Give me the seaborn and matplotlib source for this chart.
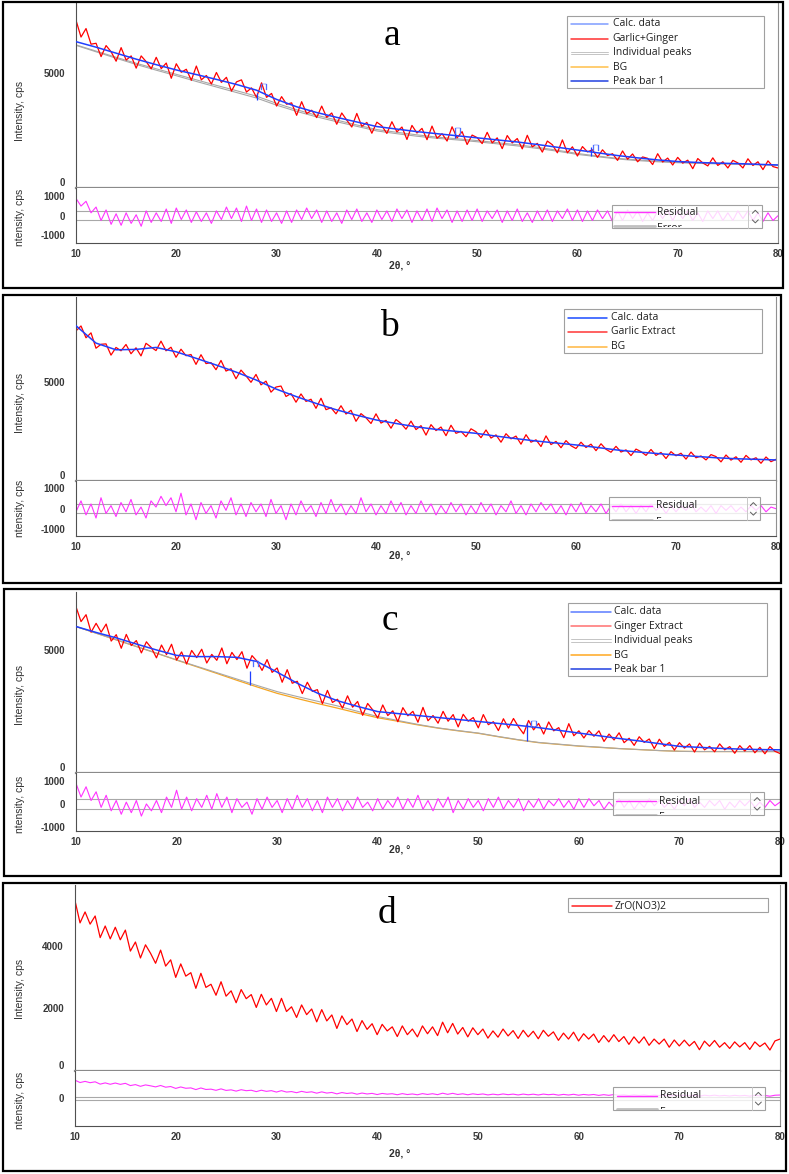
import numpy as np
import matplotlib
matplotlib.use("Agg")
import matplotlib.pyplot as plt
import seaborn as sns
from matplotlib.patches import Rectangle
from matplotlib.ticker import MultipleLocator
from matplotlib.transforms import Bbox

W, H = 789, 1174

# 2θ grids (measured points every 0.5°, fitted curves every 2°)
two_theta = np.arange(10, 80.001, 0.5)
two_theta_fit = np.arange(10, 80.001, 2.0)

# ---- a : Garlic+Ginger ----
obs_a = [7290, 6560, 6930, 6250, 6290, 5710, 6190, 5920, 5510, 6100,
         5560, 5740, 5210, 5740, 5490, 5180, 5680, 5190, 5430, 4770,
         5400, 5030, 5160, 4680, 5300, 4700, 4890, 4520, 5020, 4590,
         4810, 4210, 4610, 4700, 4170, 4350, 3940, 4570, 3940, 4110,
         3560, 3970, 3640, 3700, 3160, 3750, 3230, 3380, 3060, 3560,
         3070, 3260, 2770, 3260, 2950, 2650, 3240, 2680, 2850, 2380,
         2860, 2700, 2370, 2880, 2440, 2650, 2110, 2720, 2390, 2590,
         2100, 2690, 2160, 2360, 2040, 2660, 2180, 2450, 1890, 2300,
         2190, 1930, 2420, 1960, 2180, 1710, 2280, 1960, 2150, 1700,
         2290, 1790, 1940, 1560, 2040, 1880, 1530, 2090, 1530, 1790,
         1390, 1800, 1570, 1660, 1330, 1660, 1410, 1490, 1200, 1610,
         1250, 1480, 1140, 1350, 1290, 1020, 1490, 1130, 1300, 1000,
         1330, 1080, 1210, 840, 1280, 1090, 960, 1310, 980, 1140,
         870, 1200, 1090, 870, 1270, 980, 1140, 800, 1180, 930,
         870]
calc_a = [6360, 6120, 5860, 5600, 5360, 5130, 4930, 4720, 4500, 4250,
          3850, 3530, 3280, 3070, 2870, 2670, 2560, 2450, 2360, 2270,
          2180, 2090, 2000, 1890, 1770, 1650, 1530, 1410, 1310, 1220,
          1150, 1110, 1080, 1060, 1030, 1000]
peaks_a = [6220, 5950, 5680, 5420, 5180, 4940, 4700, 4460, 4230, 3990,
           3680, 3400, 3160, 2950, 2740, 2540, 2420, 2310, 2210, 2140,
           2060, 1970, 1880, 1770, 1640, 1500, 1390, 1290, 1220, 1160,
           1120, 1090, 1070, 1050, 1020, 1000]
bg_a = [6200, 5920, 5640, 5370, 5120, 4880, 4630, 4390, 4150, 3910,
        3600, 3330, 3090, 2880, 2680, 2480, 2360, 2250, 2160, 2090,
        2010, 1920, 1830, 1720, 1600, 1460, 1360, 1260, 1190, 1140,
        1100, 1070, 1050, 1030, 1010, 990]
resid_a = [900, 500, 750, 150, 450, -250, 300, -450, 100, -500,
           150, -400, 50, -550, 250, -350, 150, -300, 350, -400,
           400, -200, 300, -350, 200, -300, 150, -400, 250, -200,
           450, -150, 400, -300, 500, -250, 350, -350, 300, -300,
           150, -400, 250, -350, 300, -200, 400, -150, 300, -350,
           250, -300, 150, -400, 300, -200, 350, -300, 150, -350,
           300, -200, 250, -300, 350, -150, 300, -350, 250, -250,
           350, -300, 400, -150, 300, -350, 250, -300, 300, -250,
           350, -300, 250, -150, 300, -350, 250, -250, 350, -300,
           150, -350, 250, -250, 300, -300, 250, -150, 350, -250,
           300, -300, 250, -250, 300, -150, 250, -300, 250, -250,
           300, -150, 250, -300, 150, -250, 250, -150, 300, -250,
           250, -150, 250, -250, 150, -300, 250, -150, 250, -250,
           150, -250, 250, -150, 250, -250, 150, -300, 150, -250,
           0]
bar_x_a = [28.0, 47.8, 61.4]
bar_lo_a = [3830, 2180, 1400]
bar_hi_a = [4130, 2430, 1780]
mark_x_a = [28.7, 48.1, 61.9]
mark_y_a = [4380, 2480, 1750]

# ---- b : Garlic Extract ----
obs_b = [7620, 7870, 7270, 7520, 6740, 6940, 6960, 6390, 6780, 6610,
         6930, 6460, 6760, 6350, 6990, 6800, 6620, 7100, 6610, 6790,
         6280, 6690, 6360, 6420, 5920, 6410, 5960, 6010, 5650, 6120,
         5580, 5700, 5190, 5630, 5340, 5010, 5410, 4880, 5070, 4510,
         4770, 4820, 4290, 4440, 4000, 4420, 4040, 4150, 3690, 4200,
         3620, 3720, 3410, 3820, 3400, 3590, 3030, 3420, 3210, 2920,
         3410, 2940, 3080, 2680, 3120, 2920, 2630, 3040, 2610, 2810,
         2330, 2860, 2560, 2740, 2300, 2830, 2420, 2520, 2250, 2650,
         2500, 2200, 2590, 2180, 2340, 1970, 2400, 2140, 2280, 1870,
         2350, 1970, 2090, 1750, 2290, 1850, 2010, 1690, 2050, 1790,
         1650, 1970, 1700, 1870, 1540, 1890, 1610, 1460, 1760, 1470,
         1580, 1290, 1620, 1490, 1300, 1600, 1300, 1450, 1140, 1490,
         1280, 1410, 1110, 1470, 1180, 1270, 1070, 1340, 1240, 970,
         1320, 1060, 1230, 950, 1300, 1070, 1180, 900, 1220, 980,
         1100]
calc_b = [7880, 7000, 6660, 6680, 6780, 6560, 6230, 5890, 5530, 5130,
          4670, 4290, 3940, 3620, 3350, 3100, 2920, 2750, 2620, 2520,
          2420, 2280, 2150, 2030, 1930, 1830, 1710, 1580, 1480, 1400,
          1320, 1250, 1180, 1130, 1100, 1070]
resid_b = [-150, 380, -300, 230, -450, 530, -230, 150, -380, 300,
           -150, 450, -300, 80, -450, 380, 80, 600, 150, 530,
           -150, 750, -300, 230, -530, 300, -230, 150, -450, 380,
           -80, 530, -300, 230, -380, 300, -150, 230, -380, 450,
           -230, 150, -530, 230, -300, 380, -150, 150, -380, 300,
           -230, 450, -150, 230, -300, 150, -230, 530, -150, 230,
           -300, 150, -230, 380, -150, 300, -300, 150, -230, 380,
           -150, 230, -300, 150, -230, 300, -150, 230, -300, 150,
           -230, 300, -150, 230, -300, 150, -150, 380, -230, 150,
           -300, 230, -150, 300, -80, 230, -230, 150, -300, 230,
           -150, 300, -230, 150, -150, 230, -230, 150, -150, 230,
           -150, 150, -230, 150, -150, 230, -80, 150, -230, 150,
           -150, 150, -80, 230, -150, 80, -150, 150, -230, 150,
           -80, 150, -150, 80, -150, 150, -80, 150, -150, 80,
           0]

# ---- c : Ginger Extract ----
obs_c = [6740, 6140, 6420, 5710, 6070, 5710, 6040, 5350, 5610, 5060,
         5620, 5170, 5370, 4870, 5320, 5070, 4670, 5190, 4800, 5220,
         4580, 4910, 4420, 4970, 4680, 5020, 4460, 4810, 4570, 5070,
         4430, 4890, 4600, 4920, 4250, 4760, 4530, 4160, 4600, 4080,
         4260, 3680, 4190, 3640, 3720, 3220, 3680, 3310, 3380, 2810,
         3350, 2860, 2990, 2630, 3130, 2670, 2900, 2340, 2820, 2560,
         2230, 2760, 2330, 2520, 2080, 2650, 2320, 2500, 2060, 2660,
         2120, 2330, 2020, 2500, 2100, 2370, 1870, 2380, 2100, 2250,
         1830, 2370, 1960, 2080, 1720, 2200, 1820, 2210, 1870, 1590,
         2130, 1750, 2010, 1580, 2070, 1710, 1840, 1430, 2000, 1510,
         1710, 1420, 1720, 1490, 1710, 1280, 1580, 1340, 1630, 1230,
         1410, 1120, 1470, 1240, 1380, 990, 1370, 1080, 1240, 930,
         1230, 1010, 1180, 850, 1210, 940, 1080, 860, 1180, 940,
         1070, 800, 1110, 890, 1110, 820, 1040, 780, 1070, 880,
         790]
calc_c = [5940, 5700, 5480, 5230, 4990, 4770, 4720, 4720, 4690, 4520,
          4090, 3640, 3240, 2930, 2700, 2490, 2410, 2330, 2250, 2170,
          2090, 2010, 1930, 1840, 1730, 1620, 1510, 1400, 1300, 1190,
          1080, 1040, 1000, 970, 950, 940]
peaks_c = [5940, 5670, 5400, 5130, 4860, 4590, 4330, 4070, 3810, 3550,
           3300, 3100, 2910, 2720, 2500, 2290, 2130, 1970, 1830, 1720,
           1620, 1480, 1350, 1240, 1170, 1100, 1050, 990, 950, 910,
           880, 870, 870, 870, 870, 870]
bg_c = [5940, 5670, 5400, 5130, 4860, 4580, 4310, 4040, 3760, 3490,
        3230, 3020, 2820, 2630, 2430, 2240, 2100, 1950, 1820, 1710,
        1610, 1470, 1340, 1230, 1160, 1090, 1040, 990, 950, 910,
        880, 870, 870, 870, 870, 870]
resid_c = [900, 300, 750, 150, 530, -150, 380, -300, 150, -450,
           80, -380, 150, -530, 0, -300, 150, -380, 300, -150,
           600, -230, 300, -300, 230, -150, 380, -230, 450, -150,
           300, -380, 230, -150, 80, -450, 230, -230, 300, -150,
           150, -380, 230, -230, 380, -150, 230, -300, 150, -380,
           300, -150, 230, -300, 150, -230, 300, -150, 80, -300,
           230, -230, 150, -150, 300, -230, 230, -150, 380, -230,
           150, -300, 230, -150, 300, -380, 150, -230, 230, -150,
           150, -300, 230, -150, 300, -230, 150, -150, 230, -300,
           150, -150, 230, -230, 150, -80, 230, -150, 150, -230,
           230, -150, 230, -80, 150, -230, 80, -150, 230, -150,
           150, -230, 80, -150, 230, -80, 150, -150, 80, -230,
           150, -80, 230, -150, 80, -150, 150, -80, 150, -230,
           80, -150, 150, -80, 150, -150, 80, -150, 150, -80,
           80]
bar_x_c = [27.3, 54.8]
bar_lo_c = [3570, 1280]
bar_hi_c = [4140, 2020]
mark_x_c = [27.9, 55.5]
mark_y_c = [4430, 1980]

# ---- d : ZrO(NO3)2 (no fit, residual = data) ----
obs_d = [5440, 4730, 5080, 4690, 4950, 4260, 4630, 4220, 4590, 4190,
         4500, 3830, 4120, 3610, 4030, 3760, 3440, 3860, 3350, 3550,
         2990, 3420, 3030, 3140, 2640, 3120, 2670, 2770, 2420, 2850,
         2390, 2560, 2180, 2600, 2310, 2440, 2030, 2450, 2110, 2320,
         1900, 2320, 1900, 2050, 1710, 2110, 1800, 1980, 1570, 1960,
         1600, 1790, 1360, 1760, 1480, 1660, 1260, 1610, 1330, 1510,
         1160, 1490, 1280, 1410, 1100, 1440, 1160, 1340, 1090, 1440,
         1190, 1410, 1130, 1560, 1220, 1520, 1180, 1390, 1090, 1380,
         1160, 1340, 1050, 1280, 1080, 1340, 1120, 1290, 1040, 1300,
         1090, 1270, 1030, 1300, 1110, 1250, 980, 1210, 1020, 1240,
         960, 1190, 1020, 1180, 910, 1130, 930, 1160, 940, 1100,
         850, 1090, 890, 1090, 820, 1020, 860, 1020, 760, 990,
         800, 985, 800, 945, 680, 955, 790, 975, 760, 905,
         720, 930, 770, 905, 690, 930, 780, 895, 670, 960,
         1020]
resid_d = obs_d

# error band lines in the residual plots
err_a, err_b, err_c, err_d = 230, 230, 220, 350

RED = "#ff0000"
BLUE = "#1f3fff"
GREY = "#a8a8a8"
ORANGE = "#f5a623"
MAGENTA = "#ff33ff"
TICK_C = "#505050"
LAB_C = "#383838"


def px_rect(x0, y0, x1, y1):
    return [x0 / W, 1 - y1 / H, (x1 - x0) / W, (y1 - y0) / H]


def make_panel(fig, main_box, resid_box, ytop, ymajor, ylabels, rlim, rmajor, rlabels, rminor):
    ax = fig.add_axes(px_rect(*main_box))
    rx = fig.add_axes(px_rect(*resid_box))
    for a in (ax, rx):
        a.set_facecolor("white")
        a.set_xlim(10, 80)
        a.spines["top"].set_visible(False)
        for s in ("left", "right", "bottom"):
            a.spines[s].set_color(TICK_C)
            a.spines[s].set_linewidth(0.8)
        a.spines["right"].set_color("#909090")
        a.tick_params(axis="y", which="major", length=7, width=0.8, color=TICK_C,
                      pad=1, labelsize=7, labelcolor=LAB_C)
        a.tick_params(axis="y", which="minor", length=3, width=0.8, color=TICK_C)
    ax.spines["bottom"].set_color("#8a8a8a")
    ax.spines["bottom"].set_linewidth(1.6)
    ax.tick_params(axis="x", which="both", bottom=False, labelbottom=False)
    ax.set_ylim(0, ytop)
    ax.set_yticks(ymajor, labels=ylabels, fontweight="bold")
    # the "0" of the main plot sits just above the separator line
    ax.get_yticklabels()[0].set_verticalalignment("bottom")
    ax.yaxis.set_minor_locator(MultipleLocator(1000))

    rx.set_ylim(*rlim)
    rx.set_yticks(rmajor, labels=rlabels, fontweight="bold")
    rx.yaxis.set_minor_locator(MultipleLocator(rminor))
    rx.set_xticks(list(range(10, 81, 10)), labels=[str(v) for v in range(10, 81, 10)],
                  fontweight="bold")
    rx.xaxis.set_minor_locator(MultipleLocator(5))
    rx.tick_params(axis="x", which="major", length=4, width=0.8, color=TICK_C,
                   pad=0.5, labelsize=7, labelcolor=LAB_C)
    rx.tick_params(axis="x", which="minor", length=3, width=0.8, color=TICK_C)
    for a in (ax, rx):
        a.set_xlabel("")
        a.set_ylabel("")
    return ax, rx


def draw_legend(ov, box, rows, hx, tx, entries):
    x0, y0, x1, y1 = box
    ov.add_patch(Rectangle((x0, y0), x1 - x0, y1 - y0, facecolor=(1, 1, 1, 0.9),
                           edgecolor="#a0a0a0", lw=0.8, zorder=5))
    for y, (label, color, kind) in zip(rows, entries):
        if kind == "double":
            ov.plot(hx, [y - 1.2, y - 1.2], color=color, lw=0.7, zorder=6)
            ov.plot(hx, [y + 1.2, y + 1.2], color=color, lw=0.7, zorder=6)
        else:
            ov.plot(hx, [y, y], color=color, lw=1.1, zorder=6)
        ov.text(tx, y, label, ha="left", va="center", fontsize=7.5, color="#202020",
                family="Open Sans", zorder=7)


def draw_resid_legend(ov, box, y, hx, tx, sx):
    x0, y0, x1, y1 = box
    rect = Rectangle((x0, y0), x1 - x0, y1 - y0, facecolor=(1, 1, 1, 0.8),
                     edgecolor="#a0a0a0", lw=0.8, zorder=5)
    ov.add_patch(rect)
    ov.plot(hx, [y, y], color=MAGENTA, lw=1.0, zorder=6)
    ov.text(tx, y, "Residual", ha="left", va="center", fontsize=7.5, color="#202020",
            family="Open Sans", zorder=7)
    g, = ov.plot(hx, [y + 13.5, y + 13.5], color="#c0c0c0", lw=2.0, zorder=6)
    g.set_clip_path(rect)
    # second entry is scrolled out of view: only its top shows inside the box
    t = ov.text(tx, y + 16.5, "Error", ha="left", va="center", fontsize=7.5,
                color="#202020", family="Open Sans", zorder=7, clip_on=True)
    t.set_clip_box(Bbox.from_extents(x0, H - y1 + 1, x1, H - y0))
    ov.plot([sx, sx], [y0, y1], color="#c8c8c8", lw=0.7, zorder=6)
    cx = (sx + x1) / 2
    cy1 = y0 + (y1 - y0) * 0.3
    cy2 = y0 + (y1 - y0) * 0.72
    ov.plot([cx - 3, cx, cx + 3], [cy1 + 1.5, cy1 - 1.5, cy1 + 1.5], color="#606060", lw=0.7, zorder=7)
    ov.plot([cx - 3, cx, cx + 3], [cy2 - 1.5, cy2 + 1.5, cy2 - 1.5], color="#606060", lw=0.7, zorder=7)


def line(ax, x, y, color, lw, z):
    sns.lineplot(x=x, y=y, ax=ax, color=color, linewidth=lw, estimator=None,
                 sort=False, zorder=z)


def main():
    sns.set_theme(style="white")
    plt.rcParams["font.family"] = ["Liberation Sans", "DejaVu Sans"]
    plt.rcParams["axes.linewidth"] = 0.8

    fig = plt.figure(figsize=(W / 100, H / 100), dpi=100)
    fig.patch.set_facecolor("white")

    # ---- panel a ----
    ax, rx = make_panel(fig, (76, 3, 778, 188), (76, 188, 778, 243), 8040,
                        [0, 5000], ["0", "5000"], (-1420, 1440),
                        [-1000, 0, 1000], ["-1000", "0", "1000"], 500)
    line(ax, two_theta_fit, bg_a, GREY, 0.8, 1)
    line(ax, two_theta_fit, peaks_a, GREY, 0.8, 1)
    line(ax, two_theta, obs_a, RED, 0.9, 2)
    line(ax, two_theta_fit, calc_a, BLUE, 1.1, 3)
    ax.vlines(bar_x_a, bar_lo_a, bar_hi_a, color=BLUE, lw=0.9, zorder=4)
    ax.plot(mark_x_a, mark_y_a, ls="none", marker="$\\sqcap$", ms=5, color="#5070ff",
            mew=0.2, zorder=4)
    rx.axhline(err_a, color=GREY, lw=0.8, zorder=1)
    rx.axhline(-err_a, color=GREY, lw=0.8, zorder=1)
    line(rx, two_theta, resid_a, MAGENTA, 0.8, 2)

    # ---- panel b ----
    ax, rx = make_panel(fig, (76, 297, 776, 481), (76, 481, 776, 536), 9340,
                        [0, 5000], ["0", "5000"], (-1320, 1340),
                        [-1000, 0, 1000], ["-1000", "0", "1000"], 500)
    line(ax, two_theta, obs_b, RED, 0.9, 2)
    line(ax, two_theta_fit, calc_b, BLUE, 1.1, 3)
    rx.axhline(err_b, color=GREY, lw=0.8, zorder=1)
    rx.axhline(-err_b, color=GREY, lw=0.8, zorder=1)
    line(rx, two_theta, resid_b, MAGENTA, 0.8, 2)

    # ---- panel c ----
    ax, rx = make_panel(fig, (76, 592, 780, 773), (76, 773, 780, 831), 7340,
                        [0, 5000], ["0", "5000"], (-1180, 1350),
                        [-1000, 0, 1000], ["-1000", "0", "1000"], 500)
    line(ax, two_theta_fit, bg_c, ORANGE, 0.9, 1)
    line(ax, two_theta_fit, peaks_c, GREY, 0.8, 1.5)
    line(ax, two_theta, obs_c, RED, 0.9, 2)
    line(ax, two_theta_fit, calc_c, BLUE, 1.1, 3)
    ax.vlines(bar_x_c, bar_lo_c, bar_hi_c, color=BLUE, lw=0.9, zorder=4)
    ax.plot(mark_x_c, mark_y_c, ls="none", marker="$\\sqcap$", ms=5, color="#5070ff",
            mew=0.2, zorder=4)
    rx.axhline(err_c, color=GREY, lw=0.8, zorder=1)
    rx.axhline(-err_c, color=GREY, lw=0.8, zorder=1)
    line(rx, two_theta, resid_c, MAGENTA, 0.8, 2)

    # ---- panel d ----
    ax, rx = make_panel(fig, (75, 885, 780, 1071), (75, 1071, 780, 1126), 5940,
                        [0, 2000, 4000], ["0", "2000", "4000"], (-8200, 8170),
                        [-5000, 0, 5000], ["", "0", ""], 2500)
    rx.yaxis.set_minor_locator(MultipleLocator(100000))
    line(ax, two_theta, obs_d, RED, 0.9, 2)
    rx.axhline(err_d, color=GREY, lw=0.8, zorder=1)
    rx.axhline(-err_d, color=GREY, lw=0.8, zorder=1)
    line(rx, two_theta, resid_d, MAGENTA, 0.8, 2)

    # ---- overlay in pixel coordinates: frames, labels, legends ----
    ov = fig.add_axes([0, 0, 1, 1], zorder=10)
    ov.set_xlim(0, W)
    ov.set_ylim(H, 0)
    ov.axis("off")
    ov.patch.set_alpha(0)

    for x0, y0, x1, y1 in [(3, 2, 783, 288), (3, 295, 781, 583),
                           (4, 589, 781, 876), (3, 883, 786, 1171)]:
        ov.add_patch(Rectangle((x0, y0), x1 - x0, y1 - y0, fill=False,
                               edgecolor="black", lw=1.6))

    letters = [("a", 392, 45), ("b", 389, 336.5), ("c", 390, 630), ("d", 387, 923)]
    for s, x, y in letters:
        ov.text(x, y, s, ha="center", va="baseline", fontsize=27,
                family="Liberation Serif", color="black")

    ylab_main = [111, 403, 695, 989]
    ylab_res = [217, 508, 804, 1100]
    xlab = [266, 555, 849, 1153]
    for ym, yr, yx in zip(ylab_main, ylab_res, xlab):
        ov.text(20, ym, "Intensity, cps", rotation=90, ha="center", va="center",
                fontsize=7.5, color="#303030")
        ov.text(20, yr, "ntensity, cps", rotation=90, ha="center", va="center",
                fontsize=7.5, color="#303030")
        ov.text(400, yx, "2θ, °", ha="center", va="center", fontsize=7.5,
                fontweight="bold", color="#303030")

    draw_legend(ov, (566.7, 15.7, 764.3, 88.3), [24, 38.5, 52.7, 67, 81.3],
                [570.7, 608.3], 612.7,
                [("Calc. data", "#7f9cff", "line"), ("Garlic+Ginger", "#ff3030", "line"),
                 ("Individual peaks", "#c4c4c4", "double"), ("BG", "#ffc04a", "line"),
                 ("Peak bar 1", "#2040e0", "line")])
    draw_legend(ov, (564.3, 309.3, 762.3, 353.3), [317.7, 332, 346.7],
                [568, 606.7], 610.7,
                [("Calc. data", "#1a4cff", "line"), ("Garlic Extract", "#ff3535", "line"),
                 ("BG", "#ffb640", "line")])
    draw_legend(ov, (567.7, 603.3, 766.7, 675.7), [611.7, 626, 640.3, 655, 669],
                [571, 611], 614.3,
                [("Calc. data", "#5b7cff", "line"), ("Ginger Extract", "#ff7070", "line"),
                 ("Individual peaks", "#c4c4c4", "double"), ("BG", "#ffa820", "line"),
                 ("Peak bar 1", "#2040e0", "line")])
    draw_legend(ov, (568.3, 897.7, 767.7, 912.3), [905.5],
                [571.7, 611.7], 615,
                [("ZrO(NO3)2", "#ff2020", "line")])

    draw_resid_legend(ov, (611.7, 205, 762.3, 227.7), 212.3, [614.3, 655], 657.3, 748.3)
    draw_resid_legend(ov, (609.3, 497.3, 760, 520), 506, [612.3, 652.3], 655.7, 746.7)
    draw_resid_legend(ov, (612.7, 792.3, 764.3, 815), 801, [616, 656], 659.3, 750)
    draw_resid_legend(ov, (613.3, 1087, 765, 1110), 1095.7, [616.7, 656.7], 660, 751.7)

    fig.savefig("out.png", dpi=100, facecolor="white")


if __name__ == "__main__":
    main()
